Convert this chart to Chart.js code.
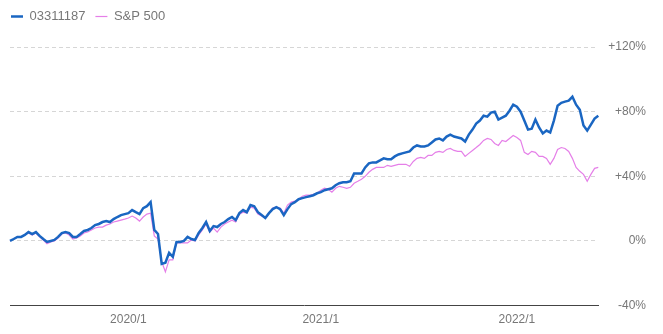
<!DOCTYPE html>
<html lang="ja">
<head>
<meta charset="UTF-8">
<title>03311187 vs S&amp;P 500</title>
<script src="https://cdn.jsdelivr.net/npm/chart.js@4.4.0/dist/chart.umd.min.js"></script>
<style>
  html, body { margin: 0; padding: 0; background: #fff; }
  #wrap { width: 663px; height: 334px; position: relative; }
</style>
</head>
<body>
<div id="wrap"><canvas id="perfChart"></canvas></div>
<script>
// weekly series, % change since start
const startDate = '2019-05-24';
const tickLabels = ['2020/1', '2021/1', '2022/1'];
const yTicks = [-40, 0, 40, 80, 120];

const fund = [
  0, 1.2, 2.5, 2.5, 3.7, 5.5, 4.3, 5.5, 3.1, 1.2,
  -0.6, 0, 0.6, 2.5, 4.9, 5.5, 4.9, 2.5, 2.5, 4.3,
  6.2, 6.8, 8.0, 9.8, 10.5, 11.7, 12.3, 11.7, 13.5, 14.8,
  16.0, 16.6, 17.2, 19.1, 17.8, 16.6, 20.3, 21.5, 24.0, 6.8,
  4.3, -14.2, -13.5, -7.4, -9.8, -0.6, -0.6, 0, 2.5, 1.2,
  0.6, 4.9, 8.0, 11.7, 6.2, 9.2, 8.6, 10.5, 11.7, 13.5,
  14.8, 12.9, 17.2, 19.1, 17.8, 22.2, 21.5, 17.8, 16.0, 14.2,
  17.2, 19.7, 20.9, 19.7, 16.0, 19.7, 22.8, 24.0, 25.8, 26.5,
  27.1, 27.7, 28.3, 29.5, 30.2, 31.4, 32.0, 32.6, 34.5, 35.7,
  36.3, 36.3, 36.9, 41.8, 41.8, 41.8, 45.5, 48.0, 48.6, 48.6,
  49.8, 51.1, 50.5, 50.5, 52.3, 53.5, 54.2, 54.8, 55.4, 57.8,
  59.1, 58.5, 58.5, 59.1, 60.9, 62.8, 63.4, 62.2, 64.6, 65.8,
  64.6, 64.0, 63.4, 61.5, 65.8, 68.9, 72.6, 74.5, 77.5, 76.9,
  79.4, 80.0, 75.1, 76.3, 77.5, 80.6, 84.3, 83.1, 80.0, 74.5,
  68.9, 69.5, 75.1, 70.2, 66.5, 68.3, 67.1, 74.5, 83.7, 85.5,
  86.2, 86.8, 89.2, 84.3, 81.2, 71.4, 68.3, 72.0, 75.7, 77.5
];

const sp500 = [
  0, 1.2, 2.5, 2.5, 3.7, 4.9, 3.7, 4.9, 2.5, 0.6,
  -1.8, -0.6, 0, 1.8, 4.3, 4.9, 3.7, 1.2, 1.8, 3.1,
  4.9, 5.5, 6.8, 8.0, 8.6, 8.6, 9.8, 10.5, 11.7, 12.3,
  12.9, 13.5, 14.2, 15.4, 14.2, 12.3, 14.8, 16.6, 17.2, 3.1,
  1.2, -12.9, -19.1, -11.7, -11.7, -1.2, -1.2, -1.2, -1.2, 0.6,
  0, 3.7, 6.8, 10.5, 5.5, 8.0, 5.5, 8.6, 10.5, 11.7,
  12.9, 11.7, 16.6, 17.8, 17.2, 20.9, 20.3, 16.6, 15.4, 14.2,
  17.2, 20.3, 20.9, 20.3, 17.2, 22.2, 24.0, 24.6, 25.8, 27.7,
  28.3, 28.3, 28.9, 29.5, 31.4, 32.6, 32.0, 30.2, 32.6, 33.8,
  33.2, 32.6, 33.2, 35.7, 36.9, 38.2, 40.0, 42.5, 44.3, 45.5,
  45.5, 45.5, 46.8, 46.2, 46.8, 47.4, 47.4, 47.4, 46.2, 49.2,
  51.1, 51.7, 51.1, 52.9, 52.9, 54.8, 55.4, 54.8, 56.6, 57.2,
  56.0, 55.4, 55.4, 52.3, 54.2, 56.0, 57.8, 59.7, 62.2, 63.4,
  62.8, 60.3, 59.1, 62.2, 61.5, 63.4, 65.2, 64.0, 62.2, 54.8,
  53.5, 55.4, 54.8, 52.3, 52.3, 51.1, 47.4, 51.1, 56.6, 57.8,
  57.2, 55.4, 51.1, 45.5, 43.1, 41.2, 36.9, 41.2, 44.9, 45.5
];

// weekly date labels
const labels = [];
const d0 = new Date(startDate + 'T00:00:00');
for (let i = 0; i < fund.length; i++) {
  const d = new Date(d0.getTime() + i * 7 * 86400000);
  labels.push(d.getFullYear() + '/' + (d.getMonth() + 1) + '/' + d.getDate());
}
// first week of each January gets a tick label
const tickAt = {};
tickLabels.forEach(t => {
  const idx = labels.findIndex(l => l.startsWith(t + '/'));
  if (idx >= 0) tickAt[idx] = t;
});

const FONT = 'Arial, "Liberation Sans", sans-serif';
const GREY = '#777';

// extra room under the legend, and pull it to the left edge
const legendGap = {
  id: 'legendGap',
  beforeLayout(chart) {
    const lg = chart.legend;
    if (lg && !lg._gapPatched) {
      const fit = lg.fit;
      lg.fit = function () { fit.apply(this, arguments); this.height += 14; };
      lg._gapPatched = true;
    }
  },
  afterLayout(chart) {
    chart.legend.left -= 9;
    chart.legend.right -= 9;
  }
};

new Chart(document.getElementById('perfChart'), {
  type: 'line',
  data: {
    labels: labels,
    datasets: [
      {
        label: '03311187',
        data: fund,
        borderColor: '#1a66c2',
        backgroundColor: '#1a66c2',
        borderWidth: 2.5,
        pointRadius: 0,
        tension: 0
      },
      {
        label: 'S&P 500',
        data: sp500,
        borderColor: '#e57fe8',
        backgroundColor: '#e57fe8',
        borderWidth: 1.2,
        pointRadius: 0,
        tension: 0
      }
    ]
  },
  plugins: [legendGap],
  options: {
    responsive: true,
    maintainAspectRatio: false,
    animation: false,
    layout: { padding: { left: 10, right: 17, top: 0, bottom: 0 } },
    plugins: {
      legend: {
        position: 'top',
        align: 'start',
        labels: {
          usePointStyle: true,
          pointStyle: 'line',
          pointStyleWidth: 12,
          color: GREY,
          font: { family: FONT, size: 13 },
          padding: 10
        }
      },
      tooltip: { enabled: false }
    },
    scales: {
      x: {
        grid: { display: false, drawTicks: false },
        border: { display: true, color: '#444', width: 1 },
        ticks: {
          autoSkip: false,
          maxRotation: 0,
          color: GREY,
          font: { family: FONT, size: 12 },
          padding: 7,
          callback: (v, i) => tickAt[i] || ''
        }
      },
      y: {
        position: 'right',
        min: -40,
        max: 120,
        afterBuildTicks: axis => { axis.ticks = yTicks.map(v => ({ value: v })); },
        grid: {
          color: c => (c.tick && c.tick.value === -40) ? 'rgba(0,0,0,0)' : '#d6d6d6',
          drawTicks: false
        },
        border: { display: false, dash: [4, 3] },
        ticks: {
          color: GREY,
          crossAlign: 'far',
          padding: 5,
          font: { family: FONT, size: 12 },
          callback: v => (v > 0 ? '+' : '') + v + '%'
        }
      }
    }
  }
});
</script>
</body>
</html>
